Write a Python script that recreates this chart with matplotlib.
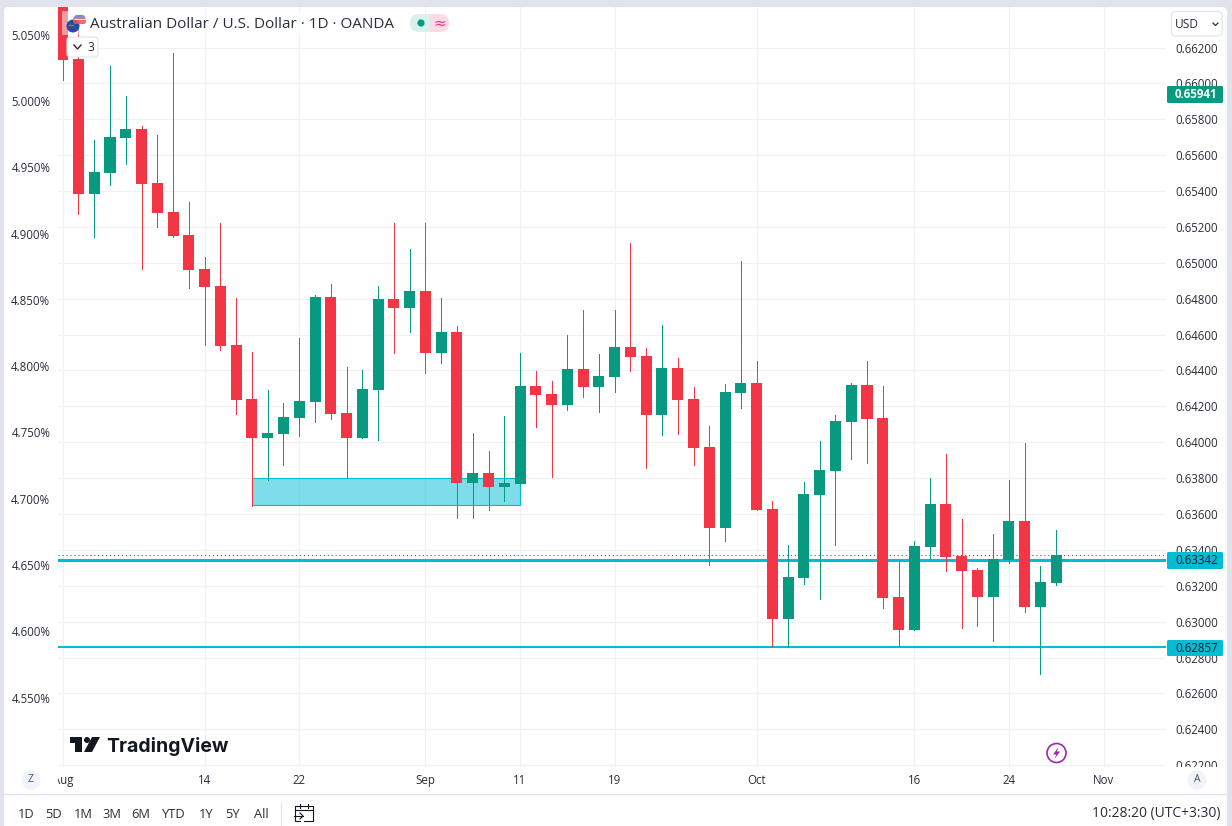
import matplotlib
matplotlib.use('Agg')
import matplotlib.pyplot as plt
from matplotlib.patches import Circle, FancyBboxPatch, Polygon, Rectangle
from matplotlib.transforms import Bbox

plt.rcParams['font.family'] = ['Open Sans', 'DejaVu Sans']

RED = '#f23645'
GREEN = '#089981'
CYAN = '#00bcd4'
TXT = '#2a2e39'
GRID = '#eff1f5'

# daily candles
opens = [0.66521, 0.66136, 0.65385, 0.65502, 0.65697, 0.65746, 0.65445, 0.65283, 0.65155, 0.64967,
         0.64871, 0.64542, 0.64241, 0.64023, 0.64046, 0.64135, 0.64224, 0.64809, 0.64163, 0.64023,
         0.64291, 0.64798, 0.64748, 0.64843, 0.64497, 0.64614, 0.63773, 0.63828, 0.63750, 0.63767,
         0.64313, 0.64269, 0.64207, 0.64408, 0.64308, 0.64363, 0.64531, 0.64481, 0.64152, 0.64414,
         0.64241, 0.63973, 0.63522, 0.64274, 0.64330, 0.63628, 0.63015, 0.63243, 0.63706, 0.63839,
         0.64113, 0.64319, 0.64135, 0.63137, 0.62953, 0.63416, 0.63656, 0.63366, 0.63288, 0.63137,
         0.63343, 0.63561, 0.63081, 0.63215]
closes = [0.66130, 0.65385, 0.65506, 0.65701, 0.65746, 0.65441, 0.65279, 0.65151, 0.64962, 0.64865,
          0.64536, 0.64235, 0.64023, 0.64051, 0.64140, 0.64230, 0.64809, 0.64157, 0.64023, 0.64297,
          0.64798, 0.64748, 0.64843, 0.64497, 0.64614, 0.63773, 0.63828, 0.63750, 0.63773, 0.64313,
          0.64263, 0.64207, 0.64408, 0.64308, 0.64369, 0.64531, 0.64475, 0.64152, 0.64414, 0.64235,
          0.63968, 0.63522, 0.64280, 0.64330, 0.63622, 0.63015, 0.63249, 0.63711, 0.63845, 0.64118,
          0.64319, 0.64129, 0.63132, 0.62953, 0.63421, 0.63656, 0.63360, 0.63282, 0.63137, 0.63349,
          0.63561, 0.63081, 0.63221, 0.63371]
highs = [0.66576, 0.66325, 0.65684, 0.66097, 0.65930, 0.65762, 0.65712, 0.66169, 0.65339, 0.65032,
         0.65222, 0.64804, 0.64503, 0.64291, 0.64219, 0.64581, 0.64821, 0.64882, 0.64419, 0.64402,
         0.64871, 0.65222, 0.65077, 0.65222, 0.64804, 0.64648, 0.64051, 0.63951, 0.64146, 0.64497,
         0.64397, 0.64341, 0.64598, 0.64737, 0.64492, 0.64737, 0.65110, 0.64525, 0.64653, 0.64469,
         0.64308, 0.64090, 0.64324, 0.65010, 0.64453, 0.63672, 0.63427, 0.63778, 0.64007, 0.64152,
         0.64330, 0.64453, 0.64313, 0.63343, 0.63449, 0.63800, 0.63934, 0.63572, 0.63299, 0.63488,
         0.63789, 0.63996, 0.63310, 0.63511]
lows = [0.66019, 0.65274, 0.65145, 0.65434, 0.65552, 0.64967, 0.65200, 0.65145, 0.64859, 0.64542,
        0.64514, 0.64157, 0.63644, 0.63789, 0.63873, 0.64035, 0.64113, 0.64129, 0.63800, 0.64023,
        0.64012, 0.64497, 0.64614, 0.64386, 0.64441, 0.63577, 0.63577, 0.63622, 0.63672, 0.63767,
        0.64085, 0.63806, 0.64180, 0.64252, 0.64168, 0.64280, 0.64397, 0.63856, 0.64040, 0.64046,
        0.63873, 0.63316, 0.63449, 0.64191, 0.63622, 0.62858, 0.62858, 0.63210, 0.63126, 0.63427,
        0.63906, 0.63884, 0.63076, 0.62864, 0.62953, 0.63349, 0.63282, 0.62964, 0.62976, 0.62892,
        0.63327, 0.63054, 0.62708, 0.63204]

price_ticks = [0.662, 0.660, 0.658, 0.656, 0.654, 0.652, 0.650, 0.648, 0.646, 0.644, 0.642,
               0.640, 0.638, 0.636, 0.634, 0.632, 0.630, 0.628, 0.626, 0.624, 0.622]
pct_ticks = [5.05, 5.00, 4.95, 4.90, 4.85, 4.80, 4.75, 4.70, 4.65, 4.60, 4.55]
x_ticks = [0, 9, 15, 23, 29, 35, 44, 54, 60, 66]
x_labels = ['Aug', '14', '22', 'Sep', '11', '19', 'Oct', '16', '24', 'Nov']

last_price = 0.65941
level_upper = 0.63342
level_lower = 0.62857
prev_close = 0.63370
zone_start, zone_end = 12, 29
zone_top, zone_bottom = 0.63800, 0.63653

timeframes = ['1D', '5D', '1M', '3M', '6M', 'YTD', '1Y', '5Y', 'All']
timeframe_x = [26, 54, 83, 112, 141, 174, 206, 233, 261]

W, H = 1232, 826
fig = plt.figure(figsize=(W / 100, H / 100), dpi=100, facecolor='#e0e3eb')


def frac(x0, y0, x1, y1):
    return [x0 / W, 1 - y1 / H, (x1 - x0) / W, (y1 - y0) / H]


fig.patches.append(FancyBboxPatch((4, H - 840), 1223, 833, boxstyle='round,pad=0,rounding_size=5',
                                  fc='white', ec='none', transform=None, zorder=-1))

ax = fig.add_axes(frac(58, 7, 1166, 767), zorder=1)
ax.patch.set_visible(False)
ax.set_xlim(-0.298, 69.96)
ax.set_ylim(0.62190, 0.66426)
for s in ax.spines.values():
    s.set_visible(False)
ax.yaxis.tick_right()
ax.set_yticks(price_ticks)
ax.set_yticklabels(['%.5f' % p for p in price_ticks])
ax.set_xticks(x_ticks)
ax.set_xticklabels(x_labels)
ax.tick_params(axis='y', length=0, pad=6.5, labelsize=8.3, labelcolor=TXT)
ax.tick_params(axis='x', length=0, pad=5, labelsize=8.3, labelcolor=TXT)
ax.grid(True, color=GRID, lw=0.9)
ax.set_axisbelow(True)

# Aug is cut by the left scale
fig.canvas.draw()
lab = ax.get_xticklabels()[0]
lab.set_clip_box(Bbox.from_extents(58, 0, 300, H))
lab.set_clip_on(True)

ax.add_patch(Rectangle((zone_start, zone_bottom), zone_end - zone_start, zone_top - zone_bottom,
                       fc=CYAN, alpha=0.5, ec='none', zorder=2))
ax.add_patch(Rectangle((zone_start, zone_bottom), zone_end - zone_start, zone_top - zone_bottom,
                       fc='none', ec=CYAN, lw=0.8, zorder=2))
ax.axhline(level_upper, color=CYAN, lw=2.2, zorder=3)
ax.axhline(level_lower, color=CYAN, lw=1.5, zorder=3)
ax.axhline(prev_close, color=GREEN, lw=0.75, ls=(0, (1.2, 2.6)), zorder=3)

for i in range(len(opens)):
    c = GREEN if closes[i] >= opens[i] else RED
    ax.vlines(i, lows[i], highs[i], color=c, lw=0.68, antialiased=False, zorder=4)
    ax.bar(i, abs(closes[i] - opens[i]), bottom=min(opens[i], closes[i]), width=0.70, color=c, lw=0, zorder=5)

# left percent scale
ax2 = fig.add_axes(frac(58, 7, 1166, 767), zorder=2)
ax2.patch.set_visible(False)
ax2.set_xticks([])
for s in ax2.spines.values():
    s.set_visible(False)
ax2.set_ylim(4.4977, 5.0709)
ax2.set_yticks(pct_ticks)
ax2.set_yticklabels(['%.3f%%' % p for p in pct_ticks])
ax2.tick_params(axis='y', length=0, pad=5.5, labelsize=8.3, labelcolor=TXT)

# everything else is chart furniture, in pixel coordinates
ov = fig.add_axes([0, 0, 1, 1], zorder=3)
ov.set_xlim(0, W)
ov.set_ylim(H, 0)
ov.axis('off')
ov.patch.set_visible(False)


def box(x0, y0, x1, y1, r=2, **kw):
    p = FancyBboxPatch((x0, y0), x1 - x0, y1 - y0, boxstyle='round,pad=0,rounding_size=%g' % r, **kw)
    ov.add_patch(p)
    return p


# header
ov.add_patch(Rectangle((62, 11), 338, 24, fc='white', alpha=0.5, ec='none'))
us = Circle((79.5, 20.5), 6.5, fc='#f3f6fb', ec='none')
ov.add_patch(us)
for yy, cc in [(15.5, '#3f83d6'), (17.8, '#ef5350'), (20.5, '#ef5350'), (23.2, '#ef5350')]:
    st = ov.plot([73, 86], [yy, yy], color=cc, lw=1.2)[0]
    st.set_clip_path(us)
ov.add_patch(Circle((73, 26), 6.5, fc='#1e4fa3', ec='none'))
ov.plot([68.5, 73], [24.5, 24.5], color='#ef5350', lw=1)
ov.text(90, 24, 'Australian Dollar / U.S. Dollar · 1D · OANDA', fontsize=10.98, color=TXT, va='center', ha='left')

pill_g = box(410, 14, 449, 32, r=9, fc='#d9f1ed', ec='none')
pill_g.set_clip_path(Rectangle((410, 14), 20, 18, transform=ov.transData))
pill_r = box(410, 14, 449, 32, r=9, fc='#fcdbe6', ec='none')
pill_r.set_clip_path(Rectangle((430, 14), 20, 18, transform=ov.transData))
ov.add_patch(Circle((421, 23), 3.6, fc=GREEN, ec='none'))
ov.text(439.5, 23, '≈', fontsize=11, color='#f23680', ha='center', va='center', family='DejaVu Sans')

box(67, 37, 98, 57, r=3, fc='white', ec='#e0e3eb', lw=0.8)
ov.plot([74, 77.5, 81], [45, 49, 45], color=TXT, lw=1)
ov.text(90.5, 47.5, '3', fontsize=8.6, color=TXT, ha='center', va='center')

box(1171.5, 11.5, 1222, 36, r=4, fc='white', ec='#e0e3eb', lw=0.8)
ov.text(1175, 24, 'USD', fontsize=8.6, color=TXT, va='center', ha='left')
ov.plot([1213, 1215.5, 1218], [23, 25.5, 23], color=TXT, lw=0.9)

# price tags
ov.add_patch(Rectangle((1166, 767), 61, 6, fc='white', ec='none'))
box(1167, 86, 1223, 103, r=1.5, fc=GREEN, ec='none')
ov.text(1217.5, 94.5, '%.5f' % last_price, fontsize=8.3, color='white', weight='bold', ha='right', va='center')
box(1167, 552, 1223, 569, r=1.5, fc=CYAN, ec='none')
ov.text(1217.5, 560.5, '%.5f' % level_upper, fontsize=8.3, color='#131722', ha='right', va='center')
box(1167, 640, 1223, 656, r=1.5, fc=CYAN, ec='none')
ov.text(1217.5, 648, '%.5f' % level_lower, fontsize=8.3, color='#131722', ha='right', va='center')

# watermark
ov.add_patch(Polygon([(70, 737), (82, 737), (82, 752), (75, 752), (75, 743), (70, 743)], fc='#131722', ec='none'))
ov.add_patch(Circle((87, 740), 3, fc='#131722', ec='none'))
ov.add_patch(Polygon([(92, 737), (100, 737), (92, 752), (84, 752)], fc='#131722', ec='none'))
ov.text(106.5, 746, 'TradingView', fontsize=14, weight='bold', color='#131722', va='center', ha='left', family='Inter')

# lightning badge
ov.add_patch(Circle((1056.5, 753), 9.5, fc='white', ec='#9c27b0', lw=1.2))
ov.add_patch(Polygon([(1058.5, 747), (1053, 754.5), (1056.3, 754.5), (1054.5, 759), (1060, 751.5), (1056.8, 751.5)],
                     fc='#9c27b0', ec='none'))

# bottom bars
ov.add_patch(Circle((31, 780), 9.5, fc='#f0f3fa', ec='none'))
ov.text(31, 780, 'Z', fontsize=7.5, color='#50535e', ha='center', va='center')
ov.add_patch(Circle((1197, 780), 9.5, fc='#f0f3fa', ec='none'))
ov.text(1197, 780, 'A', fontsize=7.5, color='#50535e', ha='center', va='center')
ov.plot([4, 1227], [794, 794], color='#e0e3eb', lw=1)
for name, tx in zip(timeframes, timeframe_x):
    ov.text(tx, 814, name, fontsize=9.3, color=TXT, ha='center', va='center')
ov.plot([280.5, 280.5], [803, 825], color='#e0e3eb', lw=0.9)
ov.plot([300, 295, 295, 313, 313, 304], [821, 821, 806, 806, 821, 821], color='#131722', lw=0.8)
ov.plot([295, 313], [810, 810], color='#131722', lw=0.8)
ov.plot([300, 300], [804, 808], color='#131722', lw=0.8)
ov.plot([308, 308], [804, 808], color='#131722', lw=0.8)
ov.plot([294, 303], [816, 816], color='#131722', lw=0.8)
ov.plot([300, 303, 300], [813, 816, 819], color='#131722', lw=0.8)
ov.text(1221, 814, '10:28:20 (UTC+3:30)', fontsize=10, color=TXT, ha='right', va='center')

fig.savefig('out.png', dpi=100, facecolor=fig.get_facecolor())
